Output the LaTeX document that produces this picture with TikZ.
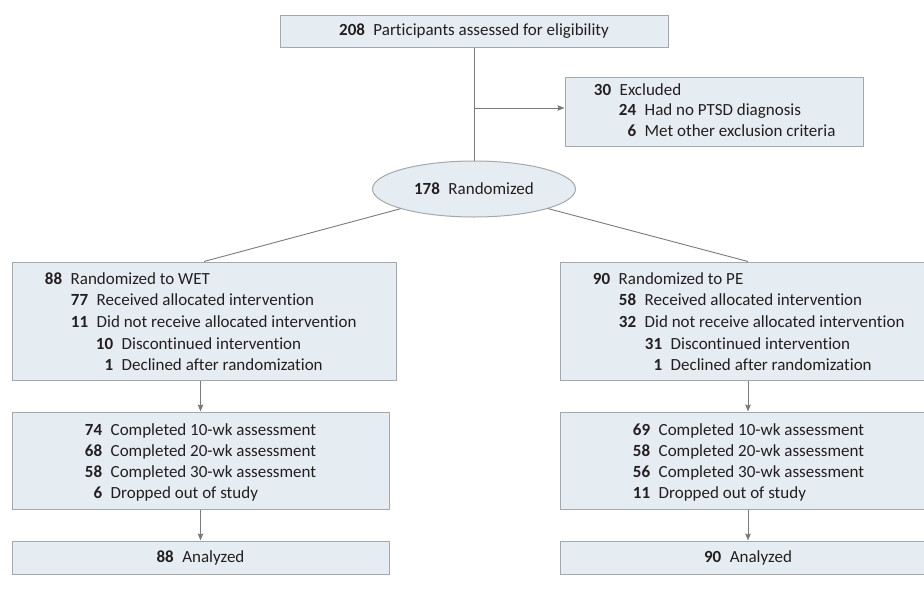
\documentclass[tikz,border=0pt]{standalone}
\usepackage{fontspec}
\setmainfont{Carlito}[Ligatures={NoCommon,NoRare,NoContextual}]
\usetikzlibrary{arrows.meta,shapes.geometric}
\definecolor{boxfill}{HTML}{E6EDF2}
\definecolor{boxdraw}{HTML}{A3A8AC}
\definecolor{linec}{HTML}{7A7A7A}
\definecolor{txt}{HTML}{231F20}
\newcommand\crow[3]{\makebox[#1][r]{\bfseries #2}\hspace{8.5pt}#3}
\begin{document}
\begin{tikzpicture}[x=1pt,y=-1pt,
  box/.style={draw=boxdraw, fill=boxfill, line width=1pt, rectangle, inner sep=0pt},
  conn/.style={draw=linec, line width=0.9pt},
  arr/.style={conn, -{Stealth[length=7pt,width=5.5pt,inset=1pt]}},
  lines/.style={anchor=base west, inner sep=0pt, text=txt, font=\fontsize{17}{21.5}\selectfont},
  ctext/.style={anchor=center, inner sep=0pt, text=txt, font=\fontsize{17}{20}\selectfont},
]
\useasboundingbox (0,0) rectangle (924,590);
\clip (0,0) rectangle (924,590);

% boxes
\node[box, minimum width=388pt, minimum height=32pt] (top) at (474,31) {};
\node[box, minimum width=298pt, minimum height=69pt] (ex) at (714,111.5) {};
\node[box, ellipse, minimum width=203pt, minimum height=56pt] (ell) at (474,189) {};
\node[box, minimum width=384pt, minimum height=118pt] (b1) at (204,321) {};
\node[box, minimum width=376pt, minimum height=118pt] (r1) at (748,321) {};
\node[box, minimum width=377pt, minimum height=97pt] (b2) at (200.5,460.5) {};
\node[box, minimum width=376pt, minimum height=97pt] (r2) at (748,460.5) {};
\node[box, minimum width=377pt, minimum height=33pt] (b3) at (200.5,557.5) {};
\node[box, minimum width=376pt, minimum height=33pt] (r3) at (748,557.5) {};

% texts
\node[ctext] (toptxt) at (top.center) {\textbf{208}\hspace{8.5pt}Participants assessed for eligibility};
\node[lines] (extxt) at (565,95) {\fontsize{17}{20.5}\selectfont\begin{tabular}[t]{@{}l@{}}
\crow{46pt}{30}{Excluded}\\
\crow{71pt}{24}{Had no PTSD diagnosis}\\
\crow{71pt}{6}{Met other exclusion criteria}\end{tabular}};
\node[ctext] (elltxt) at (ell.center) {\textbf{178}\hspace{8.5pt}Randomized};
\node[lines] (b1txt) at (12,284) {\fontsize{17}{21.7}\selectfont\begin{tabular}[t]{@{}l@{}}
\crow{50pt}{88}{Randomized to WET}\\
\crow{76pt}{77}{Received allocated intervention}\\
\crow{76pt}{11}{Did not receive allocated intervention}\\
\crow{101pt}{10}{Discontinued intervention}\\
\crow{101pt}{1}{Declined after randomization}\end{tabular}};
\node[lines] (r1txt) at (560,284) {\fontsize{17}{21.7}\selectfont\begin{tabular}[t]{@{}l@{}}
\crow{50pt}{90}{Randomized to PE}\\
\crow{76pt}{58}{Received allocated intervention}\\
\crow{76pt}{32}{Did not receive allocated intervention}\\
\crow{102pt}{31}{Discontinued intervention}\\
\crow{102pt}{1}{Declined after randomization}\end{tabular}};
\node[lines] (b2txt) at (12,435) {\fontsize{17}{21.3}\selectfont\begin{tabular}[t]{@{}l@{}}
\crow{90pt}{74}{Completed 10-wk assessment}\\
\crow{90pt}{68}{Completed 20-wk assessment}\\
\crow{90pt}{58}{Completed 30-wk assessment}\\
\crow{90pt}{6}{Dropped out of study}\end{tabular}};
\node[lines] (r2txt) at (560,435) {\fontsize{17}{21.3}\selectfont\begin{tabular}[t]{@{}l@{}}
\crow{90pt}{69}{Completed 10-wk assessment}\\
\crow{90pt}{58}{Completed 20-wk assessment}\\
\crow{90pt}{56}{Completed 30-wk assessment}\\
\crow{90pt}{11}{Dropped out of study}\end{tabular}};
\node[ctext] (b3txt) at (b3.center) {\textbf{88}\hspace{8.5pt}Analyzed};
\node[ctext] (r3txt) at (r3.center) {\textbf{90}\hspace{8.5pt}Analyzed};

% connectors
\coordinate (br) at (474,108);
\draw[conn] (top.south) -- (ell.north);
\draw[arr] (br) -- (br -| ex.west);
\draw[conn] (ell) -- (b1.north);
\draw[conn] (ell) -- (r1.north);
\draw[arr] (b1.south -| b2.north) -- (b2.north);
\draw[arr] (r1.south -| r2.north) -- (r2.north);
\draw[arr] (b2.south) -- (b3.north);
\draw[arr] (r2.south) -- (r3.north);
\end{tikzpicture}
\end{document}
